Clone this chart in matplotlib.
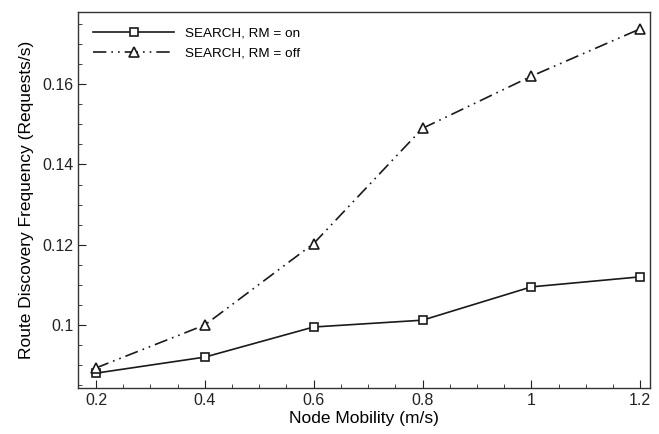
import matplotlib

matplotlib.use("Agg")
import matplotlib.pyplot as plt
from matplotlib.ticker import MultipleLocator

plt.rcParams["font.family"] = ["Liberation Sans", "DejaVu Sans"]

mobility = [0.2, 0.4, 0.6, 0.8, 1.0, 1.2]
rm_on = [0.0880, 0.0920, 0.0995, 0.1012, 0.1095, 0.1120]
rm_off = [0.0893, 0.1000, 0.1203, 0.1490, 0.1620, 0.1738]
x_ticks = [0.2, 0.4, 0.6, 0.8, 1.0, 1.2]
x_labels = ["0.2", "0.4", "0.6", "0.8", "1", "1.2"]
y_ticks = [0.10, 0.12, 0.14, 0.16]
y_labels = ["0.1", "0.12", "0.14", "0.16"]

fig = plt.figure(figsize=(6.59, 4.34), dpi=100)
ax = fig.add_axes([78 / 659, 46 / 434, 572 / 659, 376 / 434])

ax.plot(mobility, rm_on, color="#1a1a1a", lw=1.2, marker="s", ms=6,
        mfc="white", mec="#1a1a1a", mew=1.2, label="SEARCH, RM = on")
ax.plot(mobility, rm_off, color="#1a1a1a", lw=1.2, dashes=(8, 3, 1, 3, 1, 3),
        marker="^", ms=7, mfc="white", mec="#1a1a1a", mew=1.2,
        label="SEARCH, RM = off")

ax.set_xlim(0.167, 1.218)
ax.set_ylim(0.0843, 0.178)
ax.set_xticks(x_ticks)
ax.set_xticklabels(x_labels)
ax.set_yticks(y_ticks)
ax.set_yticklabels(y_labels)
ax.xaxis.set_minor_locator(MultipleLocator(0.05))
ax.yaxis.set_minor_locator(MultipleLocator(0.005))
ax.tick_params(which="both", direction="in", top=False, right=False,
               labelsize=11.5, colors="#222222")
ax.tick_params(which="major", length=6)
ax.tick_params(which="minor", length=3)
for s in ax.spines.values():
    s.set_color("#333333")
    s.set_linewidth(1.0)

ax.set_xlabel("Node Mobility (m/s)", fontsize=12.5, labelpad=2)
ax.set_ylabel("Route Discovery Frequency (Requests/s)", fontsize=12.5, labelpad=6)

ax.legend(loc="upper left", frameon=False, fontsize=9.7, handlelength=6.0,
          borderaxespad=0.75, labelspacing=0.55, handletextpad=0.8)

fig.savefig("out.png", dpi=100)
